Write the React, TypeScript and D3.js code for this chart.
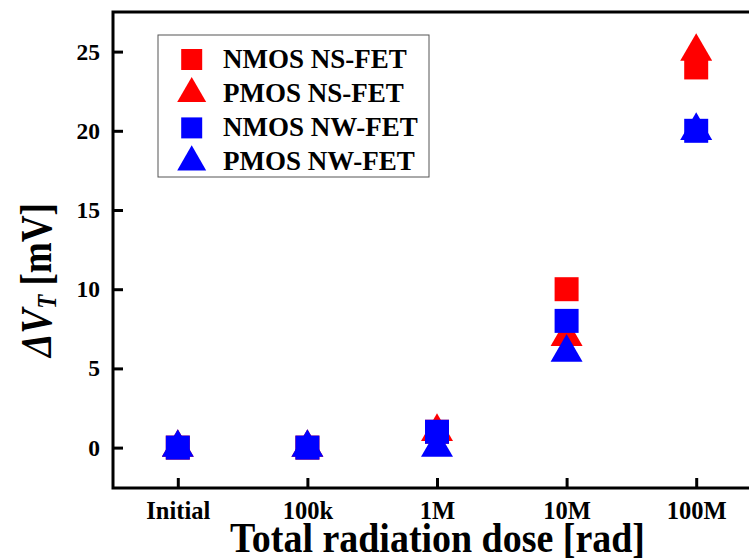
import React from "react";
import * as d3 from "d3";

const width = 749;
const height = 560;
const margin = { top: 12, right: -12, bottom: 72, left: 113 };

const doses = ["Initial", "100k", "1M", "10M", "100M"];
const nmosNS = [0, 0, 1, 10, 24];
const pmosNS = [0, 0, 1, 7, 25];
const nmosNW = [0, 0, 1, 8, 20];
const pmosNW = [0, 0, 0, 6, 20];
const yTicks = [0, 5, 10, 15, 20, 25];

const series = [
  { name: "NMOS NS-FET", values: nmosNS, color: "#ff0000", shape: "square" },
  { name: "PMOS NS-FET", values: pmosNS, color: "#ff0000", shape: "triangle" },
  { name: "NMOS NW-FET", values: nmosNW, color: "#0000ff", shape: "square" },
  { name: "PMOS NW-FET", values: pmosNW, color: "#0000ff", shape: "triangle" },
];

const font = "'Liberation Serif', 'Times New Roman', serif";

const symbolPath = (shape: string, big: boolean) => {
  if (shape === "square") return d3.symbol(d3.symbolSquare, big ? 576 : 441)();
  return d3.symbol(d3.symbolTriangle, big ? 443 : 364)();
};

export default function App() {
  const xAxisRef = React.useRef<SVGGElement>(null);
  const yAxisRef = React.useRef<SVGGElement>(null);

  const x = d3.scalePoint().domain(doses).range([margin.left, width - margin.right]).padding(0.5);
  const y = d3.scaleLinear().domain([-2.55, 27.5]).range([height - margin.bottom, margin.top]);

  React.useEffect(() => {
    const xAxis = d3.axisBottom(x).tickSizeInner(-10).tickSizeOuter(0).tickPadding(14);
    const g = d3.select(xAxisRef.current).call(xAxis as any);
    g.select(".domain").remove();
    g.selectAll(".tick line").attr("stroke", "#000").attr("stroke-width", 3);
    g.selectAll(".tick text")
      .attr("fill", "#000")
      .style("font-family", font)
      .style("font-weight", "bold")
      .style("font-size", "24.5px");

    const yAxis = d3.axisLeft(y).tickValues(yTicks).tickSizeInner(-10).tickSizeOuter(0).tickPadding(13);
    const gy = d3.select(yAxisRef.current).call(yAxis as any);
    gy.select(".domain").remove();
    gy.selectAll(".tick line").attr("stroke", "#000").attr("stroke-width", 3);
    gy.selectAll(".tick text")
      .attr("fill", "#000")
      .style("font-family", font)
      .style("font-weight", "bold")
      .style("font-size", "23.5px");
  }, []);

  const x0 = margin.left;
  const x1 = width - margin.right;
  const y0 = margin.top;
  const y1 = height - margin.bottom;

  return (
    <svg width={width} height={height} style={{ position: "absolute", left: 0, top: 0, background: "#fff" }}>
      <g ref={xAxisRef} transform={`translate(0, ${y1})`} />
      <g ref={yAxisRef} transform={`translate(${x0}, 0)`} />
      <rect x={x0} y={y0} width={x1 - x0} height={y1 - y0} fill="none" stroke="#000" strokeWidth={3} />

      {series.map((s) =>
        s.values.map((v, i) => (
          <path
            key={s.name + i}
            d={symbolPath(s.shape, true) as string}
            transform={`translate(${x(doses[i])}, ${y(v)})`}
            fill={s.color}
          />
        ))
      )}

      <g>
        <rect x={158} y={35} width={271} height={142} fill="#fff" stroke="#555" strokeWidth={1} />
        {series.map((s, i) => {
          const cy = 59.5 + i * 34.2;
          return (
            <g key={s.name}>
              <path d={symbolPath(s.shape, false) as string} transform={`translate(191.7, ${cy})`} fill={s.color} />
              <text x={223} y={cy + 8} fontFamily={font} fontWeight="bold" fontSize={27} fill="#000">
                {s.name}
              </text>
            </g>
          );
        })}
      </g>

      <text
        x={437.5}
        y={552}
        textAnchor="middle"
        fontFamily={font}
        fontWeight="bold"
        fontSize={42}
        textLength={415}
        lengthAdjust="spacingAndGlyphs"
        fill="#000"
      >
        Total radiation dose [rad]
      </text>

      <text
        transform="translate(51, 280) rotate(-90)"
        textAnchor="middle"
        fontFamily={font}
        fontWeight="bold"
        fontSize={44}
        textLength={154}
        lengthAdjust="spacingAndGlyphs"
        fill="#000"
      >
        <tspan fontStyle="italic">ΔV</tspan>
        <tspan fontStyle="italic" fontSize={27} dy={5}>T</tspan>
        <tspan dy={-5}> [mV]</tspan>
      </text>
    </svg>
  );
}
